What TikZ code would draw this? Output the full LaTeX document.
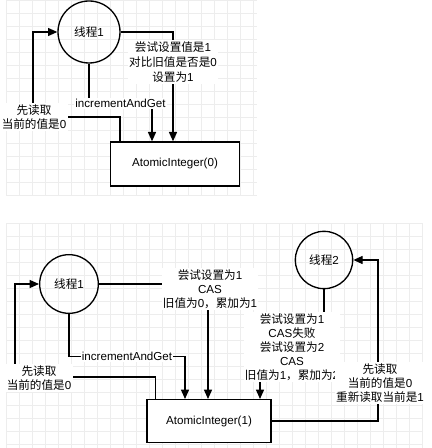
\documentclass[tikz,border=0pt]{standalone}
\usepackage{fontspec}
\setmainfont{Liberation Sans}
\newfontfamily\cjk{Noto Sans CJK SC}
\usetikzlibrary{arrows.meta, positioning, calc}

\begin{document}
\begin{tikzpicture}[
    x=0.75pt, y=-0.75pt,
    font=\fontsize{8.7}{10.5}\selectfont,
    thread/.style={circle, draw, line width=1pt, minimum size=45pt, inner sep=0pt},
    box/.style={rectangle, draw, fill=white, line width=1pt, minimum width=93pt, minimum height=32pt},
    lbl/.style={fill=white, align=center, inner sep=1pt},
    arrow/.style={-{Triangle[length=7pt,width=6pt]}, line width=1pt},
    gridline/.style={black!7, line width=0.4pt}
]
\useasboundingbox (0,0) rectangle (431,448);

% Raster
\foreach \i in {0,...,19} \draw[gridline] (6+13*\i,0) -- (6+13*\i,195);
\foreach \j in {0,...,15} \draw[gridline] (6,195-13*\j) -- (257,195-13*\j);
\foreach \i in {0,...,32} \draw[gridline] (6+13*\i,223) -- (6+13*\i,448);
\foreach \j in {0,...,17} \draw[gridline] (6,223+13*\j) -- (422,223+13*\j);

% Oben: ein Thread
\node[thread, minimum size=46.5pt] (t1) at (89,32) {{\cjk 线程}1};
\node[box, minimum width=96.75pt, minimum height=33pt] (box0) at (175,164) {AtomicInteger(0)};

\coordinate (c1) at (33,117);
\draw[arrow] ([xshift=7.5pt]box0.north west) |- (c1) |- (t1);
\node[lbl] (read0) at (34,117) {{\cjk 先读取}\\{\cjk 当前的值是}0};

\draw[arrow] (t1.south) -- ++(0,40) -| ([xshift=-17.25pt]box0.north)
    node[lbl, pos=0.25] (inc0) {incrementAndGet};

\draw[arrow] (t1) -| ([xshift=-1.5pt]box0.north);
\node[lbl, font=\fontsize{8.7}{11.5}\selectfont] (set0) at (173,62)
    {{\cjk 尝试设置值是}1\\{\cjk 对比旧值是否是}0\\{\cjk 设置为}1};

% Unten: zwei Threads
\node[thread, minimum size=44pt] (t1b) at (69,284) {{\cjk 线程}1};
\node[box] (box1) at (209,421) {AtomicInteger(1)};
\node[thread, minimum size=43pt] (t2) at (324,260) {{\cjk 线程}2};

\coordinate (c3) at (15,377);
\draw[arrow] ([xshift=6.75pt]box1.north west) |- (c3) |- (t1b);
\node[lbl] (read1) at (39,378) {{\cjk 先读取}\\{\cjk 当前的值是}0};

\draw[arrow] (t1b.south) -- ++(0,42.5) -| ([xshift=-18pt]box1.north)
    node[lbl, pos=0.25] (inc1) {incrementAndGet};

\draw[arrow] (t1b) -| ([xshift=-0.75pt]box1.north);
\node[lbl] (set1) at (210,289) {{\cjk 尝试设置为}1\\CAS\\{\cjk 旧值为}0{\cjk ，累加为}1};

\draw[arrow] (t2.south) -- ++(0,57.5) -| ([xshift=38.25pt]box1.north)
    node[lbl, pos=0.25] (set2) {{\cjk 尝试设置为}1\\CAS{\cjk 失败}\\{\cjk 尝试设置为}2\\CAS\\{\cjk 旧值为}1{\cjk ，累加为}2};

\coordinate (c4) at (378,260);
\draw[arrow] (box1.east) -| (c4) -- (t2);
\node[lbl] (read2) at (380,383) {{\cjk 先读取}\\{\cjk 当前的值是}0\\{\cjk 重新读取当前是}1};

\end{tikzpicture}
\end{document}
